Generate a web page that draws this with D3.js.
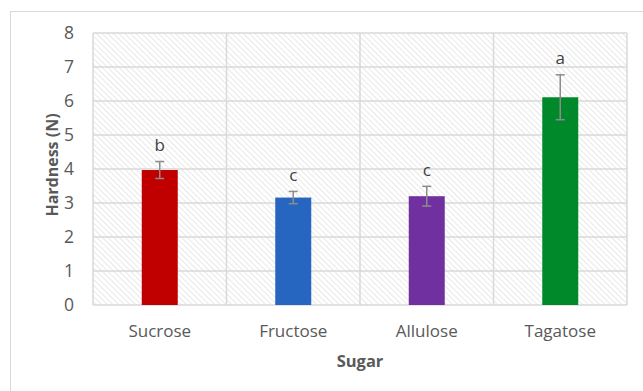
<!DOCTYPE html>
<html>
<head>
<meta charset="utf-8">
<script src="https://cdn.jsdelivr.net/npm/d3@7"></script>
<style>
  html, body { margin: 0; padding: 0; background: #fff; }
  svg { display: block; font-family: "Open Sans", "Liberation Sans", sans-serif; }
</style>
</head>
<body>
<svg id="chart" width="643" height="391"></svg>
<script>
// Hardness of samples by sugar type (mean ± SD), with significance letters
const sugars = ["Sucrose", "Fructose", "Allulose", "Tagatose"];
const hardness = [3.97, 3.16, 3.20, 6.11];
const errors = [0.25, 0.18, 0.29, 0.66];
const groupLetters = ["b", "c", "c", "a"];
const barColors = ["#C00000", "#2766C0", "#7030A0", "#00892B"];
const yTicks = [0, 1, 2, 3, 4, 5, 6, 7, 8];

const svg = d3.select("#chart");
const plot = { left: 93, top: 33, right: 627, bottom: 305 };

// Hatched plot-area fill (light diagonal lines, top-left to bottom-right)
const defs = svg.append("defs");
const pat = defs.append("pattern")
  .attr("id", "hatch")
  .attr("patternUnits", "userSpaceOnUse")
  .attr("width", 4).attr("height", 4)
  .attr("patternTransform", "rotate(-45)");
pat.append("rect").attr("width", 4).attr("height", 4).attr("fill", "#fff");
pat.append("line")
  .attr("x1", 0).attr("y1", 0).attr("x2", 0).attr("y2", 4)
  .attr("stroke", "#d9d9d9").attr("stroke-width", 1.2);

// Outer chart frame
svg.append("rect")
  .attr("x", 10.5).attr("y", 11.5)
  .attr("width", 700).attr("height", 500)
  .attr("fill", "#fff").attr("stroke", "#d9d9d9").attr("stroke-width", 1);

const x = d3.scaleBand().domain(sugars).range([plot.left, plot.right]).paddingInner(0).paddingOuter(0);
const y = d3.scaleLinear().domain([0, 8]).range([plot.bottom, plot.top]);

svg.append("rect")
  .attr("x", plot.left).attr("y", plot.top)
  .attr("width", plot.right - plot.left).attr("height", plot.bottom - plot.top)
  .attr("fill", "url(#hatch)");

// Horizontal gridlines
svg.append("g")
  .selectAll("line").data(yTicks).join("line")
  .attr("x1", plot.left).attr("x2", plot.right)
  .attr("y1", d => y(d)).attr("y2", d => y(d))
  .attr("stroke", "#d9d9d9").attr("stroke-width", 1.5);

// Vertical category separators
const seps = sugars.map(s => x(s)).concat([plot.right]);
svg.append("g")
  .selectAll("line").data(seps).join("line")
  .attr("x1", d => d).attr("x2", d => d)
  .attr("y1", plot.top).attr("y2", plot.bottom)
  .attr("stroke", "#d9d9d9").attr("stroke-width", 1.5);

// Y axis tick labels
const yAxis = d3.axisLeft(y).tickValues(yTicks).tickSize(0).tickPadding(0);
const gy = svg.append("g").attr("transform", `translate(74,0)`).call(yAxis);
gy.select(".domain").remove();
gy.selectAll("text")
  .attr("font-size", 17.5).attr("fill", "#595959")
  .attr("font-family", "Open Sans, sans-serif");

// X axis category labels
const xAxis = d3.axisBottom(x).tickSize(0).tickPadding(0);
const gx = svg.append("g").attr("transform", `translate(0,${plot.bottom + 20})`).call(xAxis);
gx.select(".domain").remove();
gx.selectAll("text")
  .attr("font-size", 17).attr("fill", "#595959")
  .attr("font-family", "Open Sans, sans-serif");

// Bars
const barW = 36;
svg.append("g")
  .selectAll("rect").data(sugars).join("rect")
  .attr("x", d => x(d) + x.bandwidth() / 2 - barW / 2)
  .attr("width", barW)
  .attr("y", (d, i) => y(hardness[i]))
  .attr("height", (d, i) => y(0) - y(hardness[i]))
  .attr("fill", (d, i) => barColors[i]);

// Error bars
const eg = svg.append("g").attr("stroke", "#8c8c8c").attr("stroke-width", 1.5);
sugars.forEach((s, i) => {
  const cx = x(s) + x.bandwidth() / 2;
  const hi = y(hardness[i] + errors[i]);
  const lo = y(hardness[i] - errors[i]);
  eg.append("line").attr("x1", cx).attr("x2", cx).attr("y1", hi).attr("y2", lo);
  eg.append("line").attr("x1", cx - 4.5).attr("x2", cx + 4.5).attr("y1", hi).attr("y2", hi);
  eg.append("line").attr("x1", cx - 4.5).attr("x2", cx + 4.5).attr("y1", lo).attr("y2", lo);
});

// Significance letters
svg.append("g")
  .selectAll("text").data(sugars).join("text")
  .attr("x", d => x(d) + x.bandwidth() / 2)
  .attr("y", (d, i) => y(hardness[i] + errors[i]) - 10.5)
  .attr("text-anchor", "middle")
  .attr("font-size", 17).attr("fill", "#404040")
  .text((d, i) => groupLetters[i]);

// Axis titles
svg.append("text")
  .attr("x", (plot.left + plot.right) / 2).attr("y", 367)
  .attr("text-anchor", "middle")
  .attr("font-size", 16.5).attr("font-weight", "bold").attr("fill", "#595959")
  .text("Sugar");

svg.append("text")
  .attr("transform", `translate(58,${(plot.top + plot.bottom) / 2 - 4}) rotate(-90)`)
  .attr("text-anchor", "middle")
  .attr("font-size", 16).attr("font-weight", "bold").attr("fill", "#595959")
  .text("Hardness (N)");
</script>
</body>
</html>
